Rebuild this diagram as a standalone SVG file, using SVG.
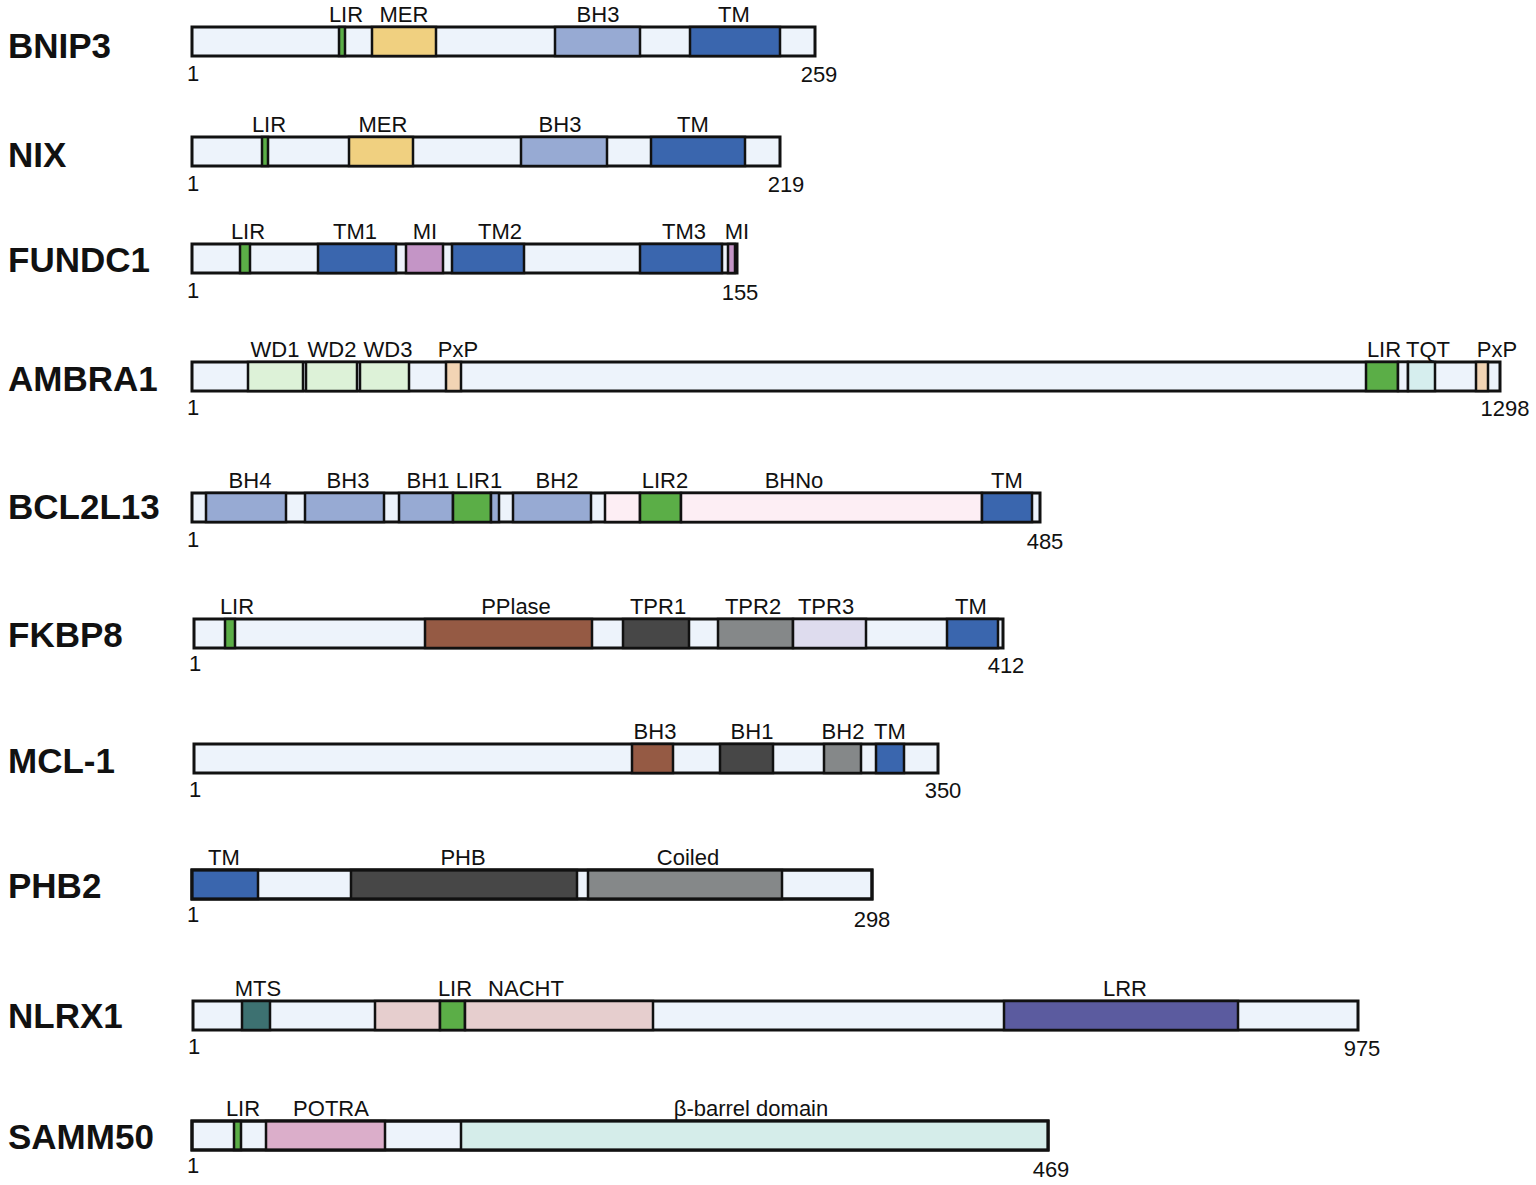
<svg xmlns="http://www.w3.org/2000/svg" width="1536" height="1185" viewBox="0 0 1536 1185">
<style>
.bg{fill:#fff}
.bar{fill:#EDF3FB;stroke:#111;stroke-width:3}
.d{stroke:#111;stroke-width:2.5}
.lt{fill:#EDF3FB}
.bh{fill:#97AAD3}
.tm{fill:#3A66AE}
.mer{fill:#F0D080}
.lir{fill:#5BAE47}
.mi{fill:#C495C6}
.wd{fill:#DDF2D8}
.pxp{fill:#F2D4B4}
.tqt{fill:#D6EEEE}
.pk{fill:#FDEEF4}
.ppi{fill:#955A44}
.dk{fill:#474747}
.gy{fill:#858889}
.tpr3{fill:#DEDCEE}
.mts{fill:#3D7171}
.nacht{fill:#E6CECE}
.lrr{fill:#5B5B9F}
.potra{fill:#DBAECA}
.beta{fill:#D5EDEA}
.name{font-family:"Liberation Sans",Arial,sans-serif;font-weight:bold;font-size:35px;fill:#111}
.lbl{font-family:"Liberation Sans",Arial,sans-serif;font-size:22px;fill:#111;text-anchor:middle}
.n1{font-family:"Liberation Sans",Arial,sans-serif;font-size:22px;fill:#111}
.ne{font-family:"Liberation Sans",Arial,sans-serif;font-size:22px;fill:#111;text-anchor:middle}
</style>
<rect class="bg" x="0" y="0" width="1536" height="1185"/>

<g id="BNIP3">
<text class="name" x="8" y="58">BNIP3</text>
<rect class="bar" x="192" y="27" width="623" height="29"/>
<rect class="d lir" x="339" y="27" width="6" height="29"/>
<rect class="d mer" x="372" y="27" width="64" height="29"/>
<rect class="d bh" x="555" y="27" width="85" height="29"/>
<rect class="d tm" x="690" y="27" width="90" height="29"/>
<text class="lbl" x="346" y="22">LIR</text>
<text class="lbl" x="404" y="22">MER</text>
<text class="lbl" x="598" y="22">BH3</text>
<text class="lbl" x="734" y="22">TM</text>
<text class="n1" x="187" y="81">1</text>
<text class="ne" x="819" y="82">259</text>
</g>

<g id="NIX">
<text class="name" x="8" y="167">NIX</text>
<rect class="bar" x="192" y="137" width="588" height="29"/>
<rect class="d lir" x="262" y="137" width="6" height="29"/>
<rect class="d mer" x="349" y="137" width="64" height="29"/>
<rect class="d bh" x="521" y="137" width="86" height="29"/>
<rect class="d tm" x="651" y="137" width="94" height="29"/>
<text class="lbl" x="269" y="132">LIR</text>
<text class="lbl" x="383" y="132">MER</text>
<text class="lbl" x="560" y="132">BH3</text>
<text class="lbl" x="693" y="132">TM</text>
<text class="n1" x="187" y="191">1</text>
<text class="ne" x="786" y="192">219</text>
</g>

<g id="FUNDC1">
<text class="name" x="8" y="272">FUNDC1</text>
<rect class="bar" x="192" y="244" width="545" height="29"/>
<rect class="d lir" x="240" y="244" width="10" height="29"/>
<rect class="d tm" x="318" y="244" width="78" height="29"/>
<rect class="d mi" x="406" y="244" width="37" height="29"/>
<rect class="d tm" x="452" y="244" width="72" height="29"/>
<rect class="d tm" x="640" y="244" width="82" height="29"/>
<rect class="d mi" x="728" y="244" width="7" height="29"/>
<text class="lbl" x="248" y="239">LIR</text>
<text class="lbl" x="355" y="239">TM1</text>
<text class="lbl" x="425" y="239">MI</text>
<text class="lbl" x="500" y="239">TM2</text>
<text class="lbl" x="684" y="239">TM3</text>
<text class="lbl" x="737" y="239">MI</text>
<text class="n1" x="187" y="298">1</text>
<text class="ne" x="740" y="300">155</text>
</g>

<g id="AMBRA1">
<text class="name" x="8" y="391">AMBRA1</text>
<rect class="bar" x="192" y="362" width="1308" height="29"/>
<rect class="d wd" x="248" y="362" width="55" height="29"/>
<rect class="d wd" x="306" y="362" width="51" height="29"/>
<rect class="d wd" x="360" y="362" width="49" height="29"/>
<rect class="d pxp" x="446" y="362" width="15" height="29"/>
<rect class="d lir" x="1366" y="362" width="32" height="29"/>
<rect class="d lt" x="1398" y="362" width="10" height="29"/>
<rect class="d tqt" x="1408" y="362" width="27" height="29"/>
<rect class="d pxp" x="1476" y="362" width="12" height="29"/>
<text class="lbl" x="275" y="357">WD1</text>
<text class="lbl" x="332" y="357">WD2</text>
<text class="lbl" x="388" y="357">WD3</text>
<text class="lbl" x="458" y="357">PxP</text>
<text class="lbl" x="1384" y="357">LIR</text>
<text class="lbl" x="1428" y="357">TQT</text>
<text class="lbl" x="1497" y="357">PxP</text>
<text class="n1" x="187" y="415">1</text>
<text class="ne" x="1505" y="416">1298</text>
</g>

<g id="BCL2L13">
<text class="name" x="8" y="519">BCL2L13</text>
<rect class="bar" x="192" y="493" width="848" height="29"/>
<rect class="d bh" x="206" y="493" width="80" height="29"/>
<rect class="d bh" x="305" y="493" width="79" height="29"/>
<rect class="d bh" x="399" y="493" width="54" height="29"/>
<rect class="d lir" x="453" y="493" width="38" height="29"/>
<rect class="d bh" x="491" y="493" width="8" height="29"/>
<rect class="d bh" x="513" y="493" width="78" height="29"/>
<rect class="d pk" x="605" y="493" width="35" height="29"/>
<rect class="d lir" x="640" y="493" width="41" height="29"/>
<rect class="d pk" x="681" y="493" width="301" height="29"/>
<rect class="d tm" x="982" y="493" width="50" height="29"/>
<text class="lbl" x="250" y="488">BH4</text>
<text class="lbl" x="348" y="488">BH3</text>
<text class="lbl" x="428" y="488">BH1</text>
<text class="lbl" x="479" y="488">LIR1</text>
<text class="lbl" x="557" y="488">BH2</text>
<text class="lbl" x="665" y="488">LIR2</text>
<text class="lbl" x="794" y="488">BHNo</text>
<text class="lbl" x="1007" y="488">TM</text>
<text class="n1" x="187" y="547">1</text>
<text class="ne" x="1045" y="549">485</text>
</g>

<g id="FKBP8">
<text class="name" x="8" y="647">FKBP8</text>
<rect class="bar" x="194" y="619" width="809" height="29"/>
<rect class="d lir" x="225" y="619" width="10" height="29"/>
<rect class="d ppi" x="425" y="619" width="167" height="29"/>
<rect class="d dk" x="623" y="619" width="66" height="29"/>
<rect class="d gy" x="718" y="619" width="75" height="29"/>
<rect class="d tpr3" x="793" y="619" width="73" height="29"/>
<rect class="d tm" x="947" y="619" width="51" height="29"/>
<text class="lbl" x="237" y="614">LIR</text>
<text class="lbl" x="516" y="614">PPlase</text>
<text class="lbl" x="658" y="614">TPR1</text>
<text class="lbl" x="753" y="614">TPR2</text>
<text class="lbl" x="826" y="614">TPR3</text>
<text class="lbl" x="971" y="614">TM</text>
<text class="n1" x="189" y="671">1</text>
<text class="ne" x="1006" y="673">412</text>
</g>

<g id="MCL-1">
<text class="name" x="8" y="773">MCL-1</text>
<rect class="bar" x="194" y="744" width="744" height="29"/>
<rect class="d ppi" x="632" y="744" width="41" height="29"/>
<rect class="d dk" x="720" y="744" width="53" height="29"/>
<rect class="d gy" x="824" y="744" width="37" height="29"/>
<rect class="d tm" x="876" y="744" width="28" height="29"/>
<text class="lbl" x="655" y="739">BH3</text>
<text class="lbl" x="752" y="739">BH1</text>
<text class="lbl" x="843" y="739">BH2</text>
<text class="lbl" x="890" y="739">TM</text>
<text class="n1" x="189" y="797">1</text>
<text class="ne" x="943" y="798">350</text>
</g>

<g id="PHB2">
<text class="name" x="8" y="898">PHB2</text>
<rect class="bar" x="192" y="870" width="680" height="29"/>
<rect class="d tm" x="192" y="870" width="66" height="29"/>
<rect class="d dk" x="351" y="870" width="226" height="29"/>
<rect class="d gy" x="588" y="870" width="194" height="29"/>
<rect x="192" y="870" width="680" height="29" fill="none" stroke="#111" stroke-width="3"/>
<text class="lbl" x="224" y="865">TM</text>
<text class="lbl" x="463" y="865">PHB</text>
<text class="lbl" x="688" y="865">Coiled</text>
<text class="n1" x="187" y="922">1</text>
<text class="ne" x="872" y="927">298</text>
</g>

<g id="NLRX1">
<text class="name" x="8" y="1028">NLRX1</text>
<rect class="bar" x="193" y="1001" width="1165" height="29"/>
<rect class="d mts" x="242" y="1001" width="28" height="29"/>
<rect class="d nacht" x="375" y="1001" width="65" height="29"/>
<rect class="d lir" x="440" y="1001" width="25" height="29"/>
<rect class="d nacht" x="465" y="1001" width="188" height="29"/>
<rect class="d lrr" x="1004" y="1001" width="234" height="29"/>
<text class="lbl" x="258" y="996">MTS</text>
<text class="lbl" x="455" y="996">LIR</text>
<text class="lbl" x="526" y="996">NACHT</text>
<text class="lbl" x="1125" y="996">LRR</text>
<text class="n1" x="188" y="1054">1</text>
<text class="ne" x="1362" y="1056">975</text>
</g>

<g id="SAMM50">
<text class="name" x="8" y="1149">SAMM50</text>
<rect class="bar" x="192" y="1121" width="856" height="29"/>
<rect class="d lir" x="234" y="1121" width="7" height="29"/>
<rect class="d potra" x="266" y="1121" width="119" height="29"/>
<rect class="d beta" x="461" y="1121" width="587" height="29"/>
<rect x="192" y="1121" width="856" height="29" fill="none" stroke="#111" stroke-width="3"/>
<text class="lbl" x="243" y="1116">LIR</text>
<text class="lbl" x="331" y="1116">POTRA</text>
<text class="lbl" x="751" y="1116">β-barrel domain</text>
<text class="n1" x="187" y="1173">1</text>
<text class="ne" x="1051" y="1177">469</text>
</g>
</svg>
